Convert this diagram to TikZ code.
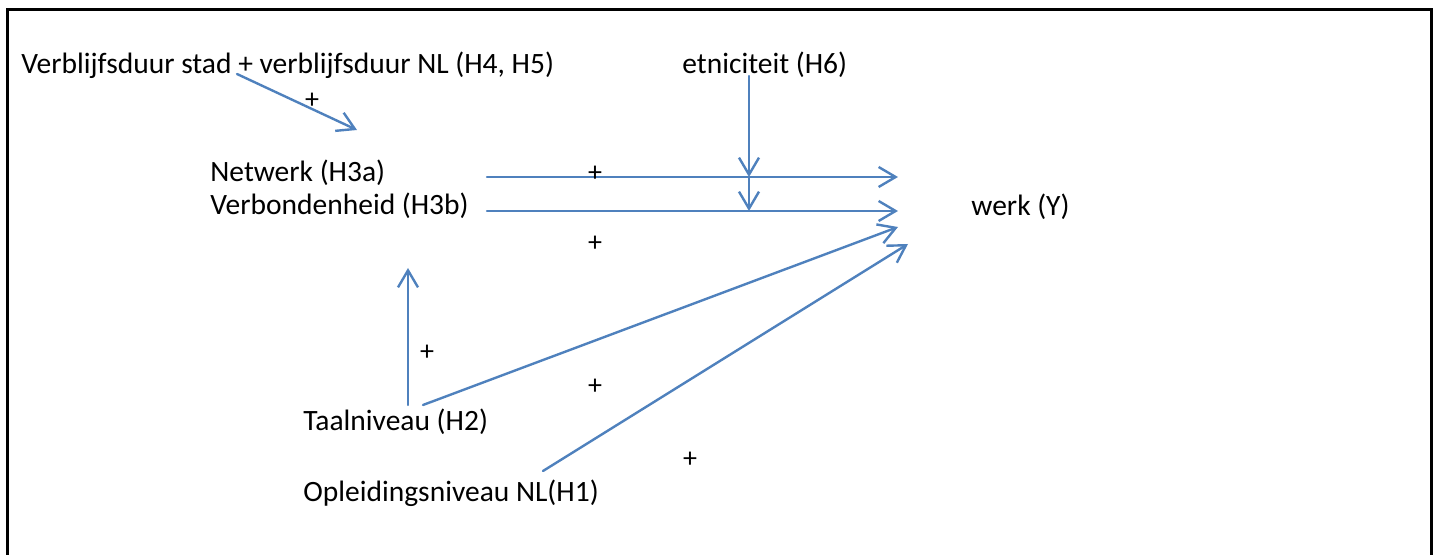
\documentclass[tikz,border=0pt]{standalone}
\usepackage{fontspec}
\setmainfont{Carlito}
\usetikzlibrary{arrows.meta}
\definecolor{linkblue}{RGB}{79,129,189}
\begin{document}
\begin{tikzpicture}[x=0.5pt,y=-0.5pt,
  lbl/.style={anchor=base west, inner sep=0pt, font=\fontsize{14.75}{17}\selectfont},
  sign/.style={inner sep=0pt, font=\fontsize{14}{16}\selectfont},
  link/.style={draw=linkblue, line width=1.2pt, line cap=round,
    -{Straight Barb[length=8.5pt,width=10pt,line width=1.2pt]}}]
\useasboundingbox (0,0) rectangle (1437,555);
% frame (its lower edge lies below the page)
\draw[line width=1.5pt] (7,560) -- (7,10) -- (1431,10) -- (1431,560);

% concepts
\node[lbl] (dur)  at (21,74)   {Verblijfsduur stad + verblijfsduur NL (H4, H5)};
\node[lbl] (eth)  at (682,74)  {etniciteit (H6)};
\node[lbl] (net)  at (210,182) {Netwerk (H3a)};
\node[lbl] (ver)  at (210,215) {Verbondenheid (H3b)};
\node[lbl] (werk) at (971,216) {werk (Y)};
\node[lbl] (taal) at (303,431) {Taalniveau (H2)};
\node[lbl] (opl)  at (303,502) {Opleidingsniveau NL(H1)};

% connector end points
\coordinate (durOut)  at (237,74);
\coordinate (netIn)   at (357,130);
\coordinate (ethOut)  at (749,76);
\coordinate (cross1)  at (749,177);
\coordinate (cross2)  at (749,211);
\coordinate (netOut)  at (487,177);
\coordinate (verOut)  at (487,211);
\coordinate (werkIn1) at (898,177);
\coordinate (werkIn2) at (898,211);
\coordinate (werkIn3) at (898,227);
\coordinate (werkIn4) at (908,244);
\coordinate (taalUp)  at (408,405);
\coordinate (verIn)   at (408,268);
\coordinate (taalOut) at (423,405);
\coordinate (oplOut)  at (543,471);

% paths
\draw[link] (durOut) -- (netIn);
\draw[link] (netOut) -- (werkIn1);
\draw[link] (verOut) -- (werkIn2);
\draw[link] (ethOut) -- (cross1);
\draw[link] (cross1) -- (cross2);
\draw[link] (taalUp) -- (verIn);
\draw[link] (taalOut) -- (werkIn3);
\draw[link] (oplOut) -- (werkIn4);

% signs
\node[sign] (s1) at (312,101) {+};
\node[sign] (s2) at (595,174) {+};
\node[sign] (s3) at (595,244) {+};
\node[sign] (s4) at (427,353) {+};
\node[sign] (s5) at (595,387) {+};
\node[sign] (s6) at (690,460) {+};
\end{tikzpicture}
\end{document}
